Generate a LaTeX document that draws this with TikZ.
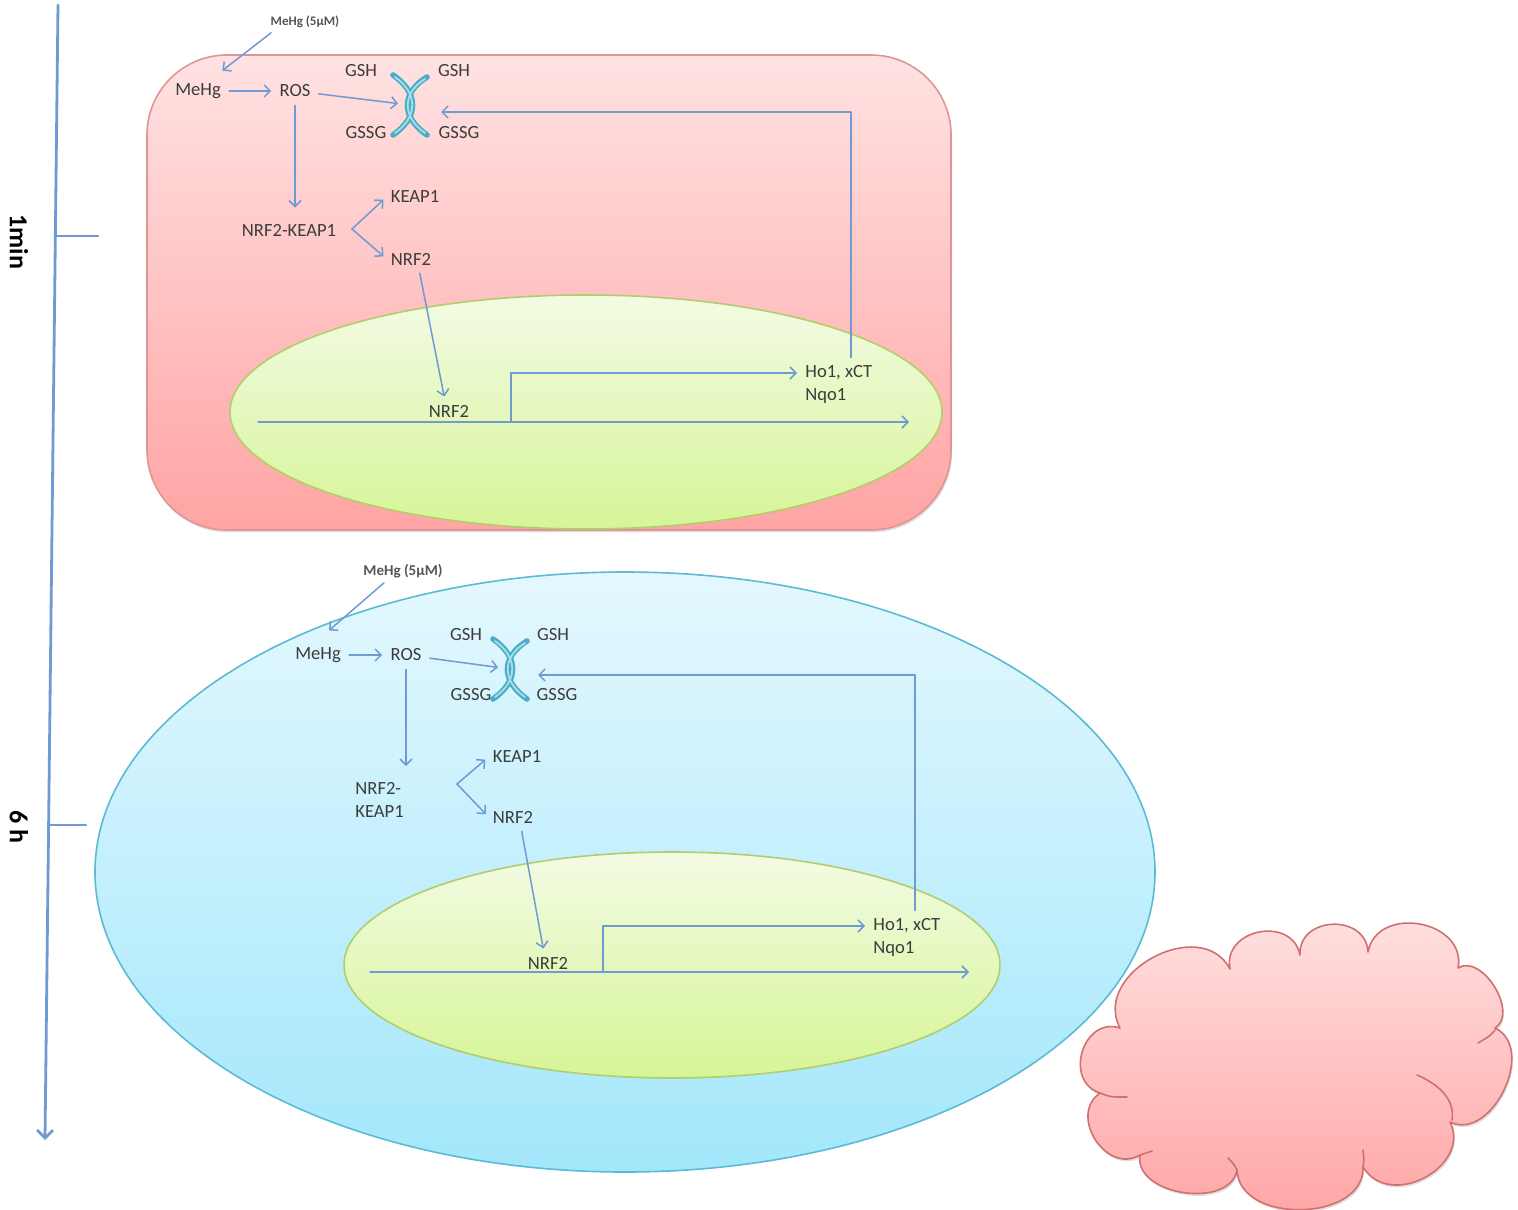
\documentclass[tikz,border=0pt]{standalone}
\usepackage{fontspec}
\setmainfont{Carlito}
\usetikzlibrary{arrows.meta,shadows}

\definecolor{arrowblue}{HTML}{6F9BD2}
\definecolor{txtgrey}{HTML}{3C3C3C}
\definecolor{dosegrey}{HTML}{555555}
\definecolor{panelhi}{HTML}{FFE2E2}
\definecolor{panello}{HTML}{FFA4A4}
\definecolor{panelline}{HTML}{E09494}
\definecolor{nuchi}{HTML}{F3FBE4}
\definecolor{nuclo}{HTML}{D6F597}
\definecolor{nucline}{HTML}{B3CD6A}
\definecolor{cellhi}{HTML}{E4F8FE}
\definecolor{celllo}{HTML}{A3E7FB}
\definecolor{cellline}{HTML}{5BBAD4}
\definecolor{xchdark}{HTML}{4BACC6}
\definecolor{xchlight}{HTML}{A6DFEC}
\definecolor{cloudline}{HTML}{D07070}

\tikzset{
  lbl/.style={font=\fontsize{9.3}{11.5}\selectfont, text=txtgrey, inner sep=2pt},
  dose/.style={font=\fontsize{6.5}{8}\selectfont\bfseries, text=dosegrey, inner sep=1pt},
  tlbl/.style={font=\fontsize{13}{15}\selectfont\bfseries, text=black, rotate=-90, inner sep=0pt},
  arr/.style={draw=arrowblue, line width=.75pt, -{Straight Barb[length=3pt,width=6pt]}, shorten >=2pt, shorten <=2pt},
  timeline/.style={draw=arrowblue, line width=1.4pt},
  nucleus/.style={draw=nucline, line width=.8pt, top color=nuchi, bottom color=nuclo},
  xch/.style={line width=2.8pt, draw=xchdark, line cap=round},
  xchhi/.style={line width=.9pt, draw=xchlight, line cap=round},
}

% GSH / GSSG exchanger drawn around a coordinate
\newcommand{\exchanger}[1]{%
  \begin{scope}[shift={(#1)}]
    \draw[xch] (-17,-30) .. controls (9,-12) and (9,12) .. (-17,30);
    \draw[xch] (17,-28) .. controls (-9,-12) and (-9,12) .. (17,30);
    \draw[xchhi] (-15,-28) .. controls (8,-12) and (8,12) .. (-15,28);
    \draw[xchhi] (15,-26) .. controls (-8,-12) and (-8,12) .. (15,28);
  \end{scope}}

\begin{document}
\begin{tikzpicture}[x=0.5pt, y=-0.5pt, line cap=round, line join=round]
  \useasboundingbox (0,0) rectangle (1518,1209);

  % time axis
  \draw[timeline, -{Straight Barb[length=4pt,width=8pt]}] (58,5) -- (45,1140);
  \draw[timeline] (56,236) -- (98,236);
  \draw[timeline] (49,825) -- (86,825);
  \node[tlbl] (tmin) at (19,242) {1min};
  \node[tlbl] (tsix) at (19,827) {6 h};

  % cell after 1 min
  \draw[draw=panelline, line width=.8pt, top color=panelhi, bottom color=panello,
    rounded corners=40pt, drop shadow={opacity=.25, shadow xshift=.6pt, shadow yshift=-1.2pt}]
    (147,55) rectangle (951,530);
  \draw[nucleus] (586,412) ellipse [x radius=356, y radius=117];

  \coordinate (xA) at (410,105);
  \coordinate (xinA) at (437,112);
  \coordinate (vA) at (352,229);
  \coordinate (dnaA) at (258,422);
  \coordinate (dnaAend) at (913,422);
  \coordinate (tssA) at (511,422);
  \exchanger{xA}

  \node[dose] (doseA) at (305,22) {MeHg (5μM)};
  \node[lbl] (mehgA) at (198,91) {MeHg};
  \node[lbl] (rosA) at (295,91) {ROS};
  \node[lbl] (gshA) at (361,71) {GSH};
  \node[lbl] (gshAout) at (454,71) {GSH};
  \node[lbl] (gssgA) at (366,133) {GSSG};
  \node[lbl] (gssgAout) at (459,133) {GSSG};
  \node[lbl] (nkA) at (289,230) {NRF2-KEAP1};
  \node[lbl] (keapA) at (415,197) {KEAP1};
  \node[lbl] (nrfA) at (411,259) {NRF2};
  \node[lbl] (nrfnA) at (449,411) {NRF2};
  \node[lbl, anchor=west] (hoA) at (801,373) {Ho1, xCT};
  \node[lbl, anchor=west] (nqoA) at (801,396) {Nqo1};

  \draw[arr] ([xshift=3pt]doseA.south west) -- ([xshift=-3pt,yshift=3pt]mehgA.north east);
  \draw[arr] (mehgA) -- (rosA);
  \draw[arr, shorten >=6pt] (rosA) -- (xA);
  \draw[arr] (rosA.south) -- ([yshift=4pt]rosA |- nkA.north);
  \draw[arr, shorten <=0pt] (vA) -- (keapA.west);
  \draw[arr, shorten <=0pt] (vA) -- (nrfA.west);
  \draw[arr] ([xshift=4pt]nrfA.south) -- ([xshift=-2pt]nrfnA.north);
  \draw[arr, shorten <=0pt] (dnaA) -- (dnaAend);
  \draw[arr, shorten <=0pt] (tssA) |- (hoA.west);
  \draw[arr] ([xshift=6pt]hoA.north) |- (xinA);

  % cell after 6 h
  \draw[draw=cellline, line width=.8pt, top color=cellhi, bottom color=celllo]
    (625,872) ellipse [x radius=530, y radius=300];
  \draw[nucleus] (672,965) ellipse [x radius=328, y radius=113];

  \coordinate (xB) at (510,669);
  \coordinate (xinB) at (534,675);
  \coordinate (vB) at (457,784);
  \coordinate (dnaB) at (370,972);
  \coordinate (dnaBend) at (973,972);
  \coordinate (tssB) at (603,972);
  \exchanger{xB}

  \node[dose, font=\fontsize{7.5}{9}\selectfont\bfseries] (doseB) at (403,571) {MeHg (5μM)};
  \node[lbl] (mehgB) at (318,655) {MeHg};
  \node[lbl] (rosB) at (406,655) {ROS};
  \node[lbl] (gshB) at (466,635) {GSH};
  \node[lbl] (gshBout) at (553,635) {GSH};
  \node[lbl] (gssgB) at (471,695) {GSSG};
  \node[lbl] (gssgBout) at (557,695) {GSSG};
  \node[lbl, align=left, anchor=west] (nkB) at (351,800) {NRF2-\\KEAP1};
  \node[lbl] (keapB) at (517,757) {KEAP1};
  \node[lbl] (nrfB) at (513,817) {NRF2};
  \node[lbl] (nrfnB) at (548,963) {NRF2};
  \node[lbl, anchor=west] (hoB) at (869,926) {Ho1, xCT};
  \node[lbl, anchor=west] (nqoB) at (869,949) {Nqo1};

  \draw[arr] ([xshift=-8pt]doseB.south) -- ([xshift=4pt,yshift=5pt]mehgB.north);
  \draw[arr] (mehgB) -- (rosB);
  \draw[arr, shorten >=6pt] (rosB) -- (xB);
  \draw[arr] (rosB.south) -- ([yshift=4pt]rosB |- nkB.north);
  \draw[arr, shorten <=0pt] (vB) -- (keapB.west);
  \draw[arr, shorten <=0pt] (vB) -- (nrfB.west);
  \draw[arr] ([xshift=4pt]nrfB.south) -- ([xshift=-2pt]nrfnB.north);
  \draw[arr, shorten <=0pt] (dnaB) -- (dnaBend);
  \draw[arr, shorten <=0pt] (tssB) |- (hoB.west);
  \draw[arr] ([xshift=4pt]hoB.north) |- (xinB);

  % cloud
  \draw[draw=cloudline, line width=.8pt, top color=panelhi, bottom color=panello,
    drop shadow={opacity=.25, shadow xshift=.6pt, shadow yshift=-1.2pt}]
    (1120,1028) .. controls (1091,973) and (1201,914) .. (1230,969)
    .. controls (1222,929) and (1292,915) .. (1300,955)
    .. controls (1298,916) and (1366,913) .. (1368,952)
    .. controls (1377,904) and (1467,920) .. (1458,968)
    .. controls (1482,953) and (1519,1013) .. (1495,1028)
    .. controls (1537,1048) and (1492,1142) .. (1450,1122)
    .. controls (1472,1166) and (1390,1211) .. (1363,1167)
    .. controls (1365,1222) and (1239,1225) .. (1237,1170)
    .. controls (1230,1210) and (1133,1195) .. (1140,1155)
    .. controls (1106,1175) and (1068,1115) .. (1100,1093)
    .. controls (1063,1081) and (1083,1016) .. (1120,1028) -- cycle;
  \draw[draw=cloudline, line width=.8pt]
    (1417,1075) .. controls (1440,1085) and (1455,1100) .. (1452,1120)
    (1495,1030) .. controls (1490,1036) .. (1478,1043)
    (1100,1093) .. controls (1110,1097) .. (1127,1097)
    (1363,1167) .. controls (1364,1160) .. (1363,1150)
    (1237,1170) .. controls (1233,1163) .. (1228,1158)
    (1140,1155) .. controls (1146,1153) .. (1152,1151);
\end{tikzpicture}
\end{document}
